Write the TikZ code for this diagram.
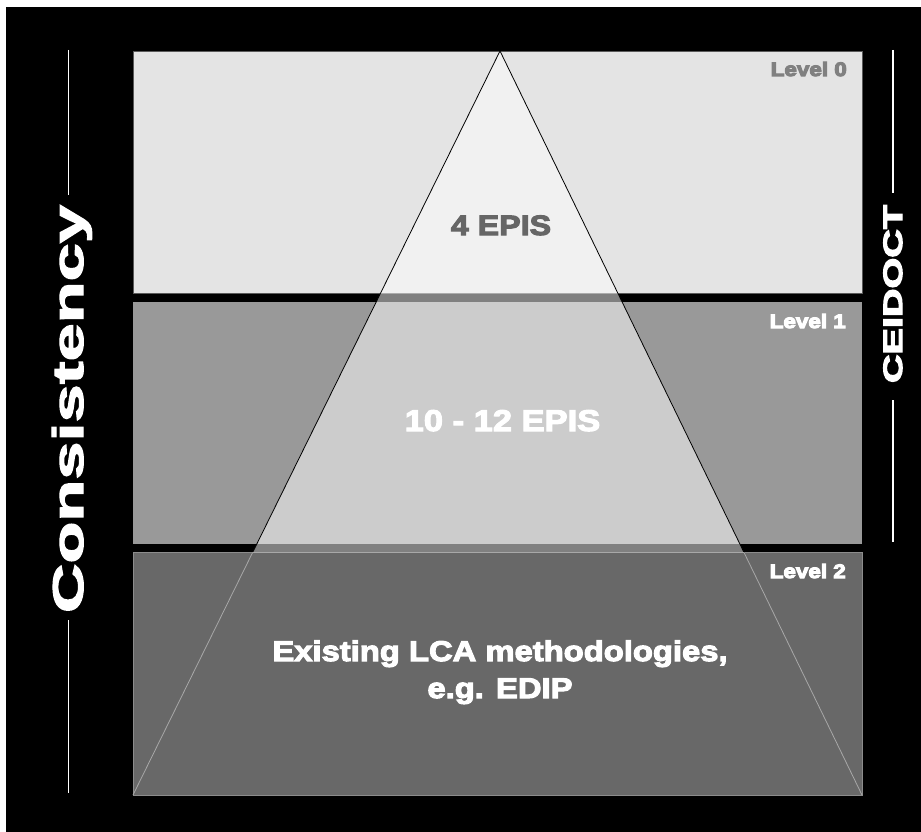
\documentclass[tikz,border=0pt]{standalone}
\usepackage{fontspec}
\usepackage{graphicx}
\newfontfamily\heavy{Liberation Sans}[UprightFont={* Bold}, FakeStretch=1.15]
\newcommand\thick[1]{\special{pdf:code 2 Tr 1.1 w}#1\special{pdf:code 0 Tr}}
\definecolor{lzero}{HTML}{E4E4E4}
\definecolor{lzerob}{HTML}{5A5A5A}
\definecolor{lone}{HTML}{999999}
\definecolor{ltwo}{HTML}{686868}
\definecolor{ltwob}{HTML}{8C8C8C}
\definecolor{edgelight}{HTML}{A8A8A8}
\definecolor{gtext}{HTML}{808080}
\definecolor{dtext}{HTML}{666666}
\tikzset{
  lbl/.style={inner sep=0pt, font=\heavy},
  sideline/.style={white, line width=1.4pt},
}
\begin{document}
\begin{tikzpicture}[x=1pt,y=1pt]
\useasboundingbox (0,0) rectangle (921,-832);
\fill[white] (0,0) rectangle (921,-832);
\fill[black] (6,-7) rectangle (921,-832);
% bands
\filldraw[fill=lzero, draw=lzerob, line width=0.8pt] (133,-51) rectangle (862,-293);
\fill[lone] (133,-302) rectangle (862,-544);
\filldraw[fill=ltwo, draw=ltwob, line width=0.8pt] (133,-552) rectangle (862,-795);
% translucent pyramid top
\begin{scope}
  \clip (0,-45) rectangle (921,-552);
  \fill[white, fill opacity=0.5] (500,-51) -- (133,-795) -- (862,-795) -- cycle;
  \draw[black, line width=0.8pt] (133,-795) -- (500,-51) -- (862,-795);
\end{scope}
\begin{scope}
  \clip (0,-552) rectangle (921,-800);
  \draw[edgelight, line width=0.8pt] (133,-795) -- (500,-51) -- (862,-795);
\end{scope}
\draw[edgelight, line width=0.8pt] (252.9,-552) -- (743.8,-552);
% side lines
\draw[sideline] (68.5,-50) -- (68.5,-195);
\draw[sideline] (68.5,-620) -- (68.5,-793);
\draw[sideline] (893,-50) -- (893,-193);
\draw[sideline] (893,-400) -- (893,-542);
% level labels
\node[lbl, text=gtext, anchor=base east] (lvl0) at (847,-76) {\fontsize{19.5}{22}\selectfont\thick{Level 0}};
\node[lbl, text=white, anchor=base east] (lvl1) at (846,-328) {\fontsize{19.5}{22}\selectfont\thick{Level 1}};
\node[lbl, text=white, anchor=base east] (lvl2) at (846,-578) {\fontsize{19.5}{22}\selectfont\thick{Level 2}};
% pyramid texts
\node[lbl, text=dtext, anchor=base] (epis4) at (501,-235) {\fontsize{28}{32}\selectfont\thick{4 EPIS}};
\node[lbl, text=white, anchor=base] (epis12) at (502.5,-431) {\fontsize{30}{34}\selectfont\thick{10 - 12 EPIS}};
\node[lbl, text=white, anchor=base] (ex1) at (500,-661) {\fontsize{28.5}{34}\selectfont\thick{Existing LCA methodologies,}};
\node[lbl, text=white, anchor=base] (ex2) at (500,-698) {\fontsize{28.5}{34}\selectfont\thick{e.g. EDIP}};
% rotated side texts
\node[lbl, text=white, anchor=base, rotate=90] (cons) at (83,-409)
  {\resizebox{408pt}{\height}{\fontsize{43}{48}\selectfont\thick{Consistency}}};
\node[lbl, text=white, anchor=base, rotate=90] (ceid) at (902,-294)
  {\resizebox{178pt}{\height}{\fontsize{26.5}{30}\selectfont\thick{CEIDOCT}}};
\end{tikzpicture}
\end{document}
